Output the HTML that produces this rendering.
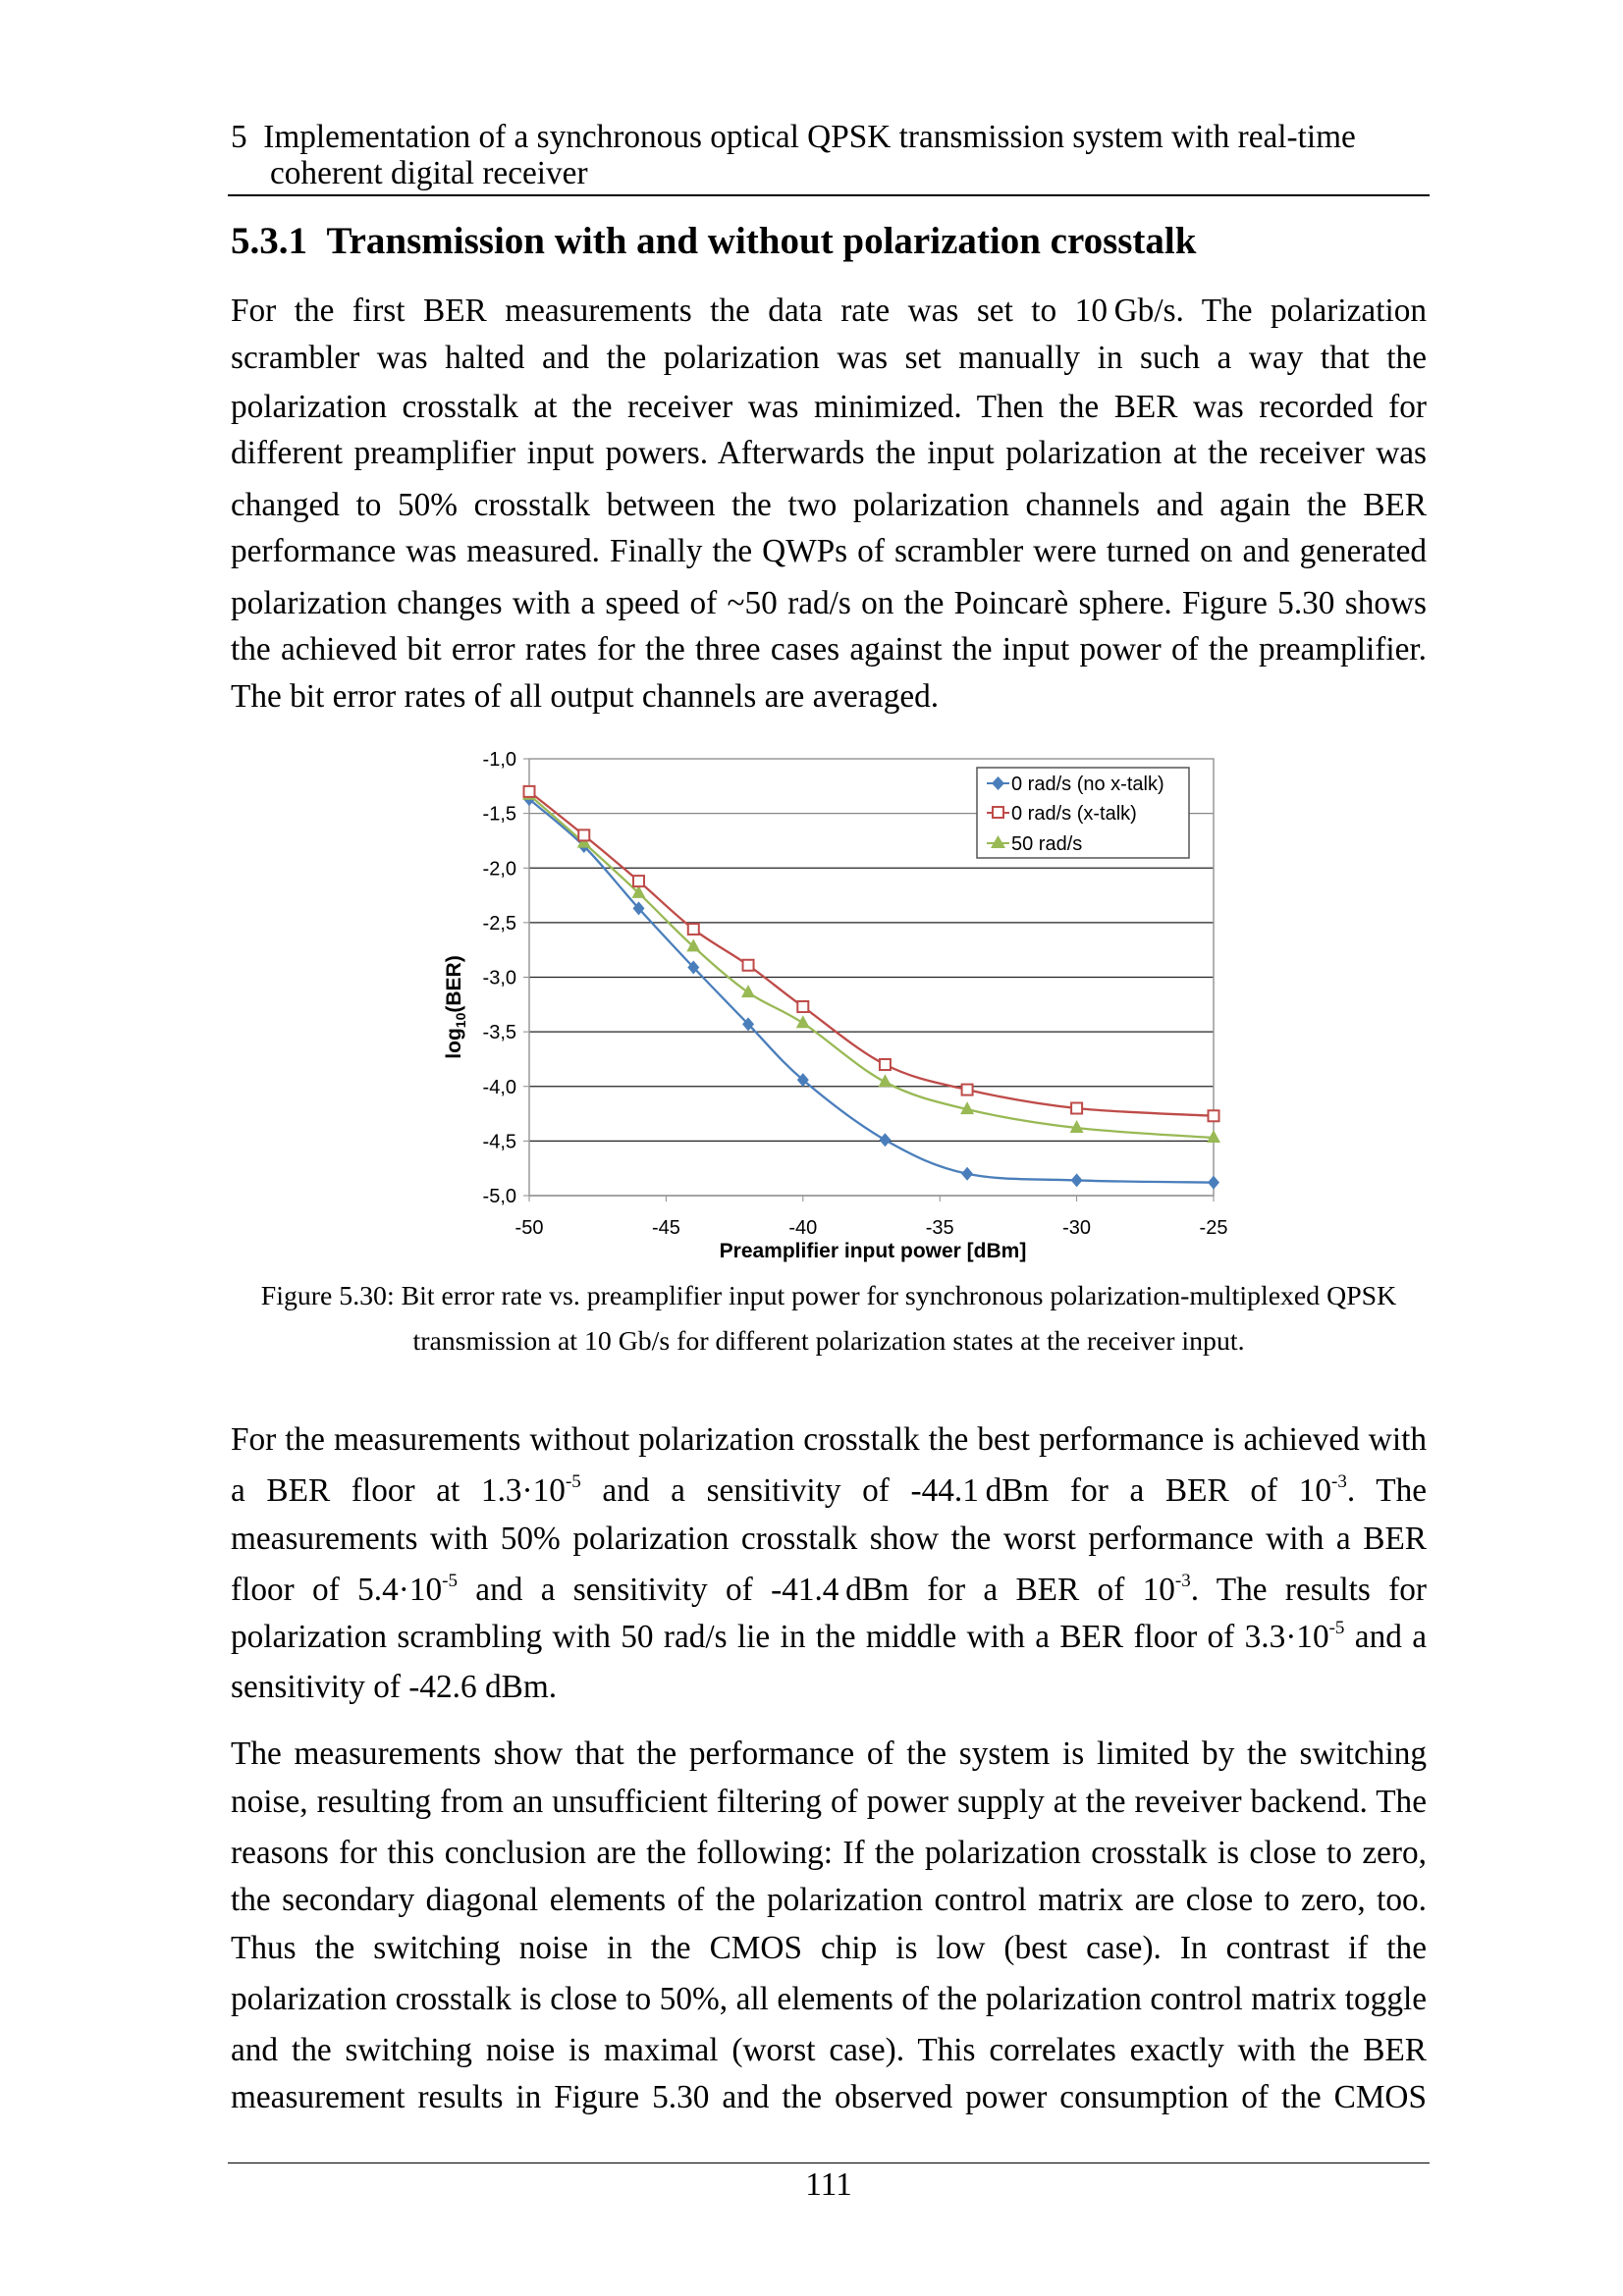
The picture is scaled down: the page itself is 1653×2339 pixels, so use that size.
<!DOCTYPE html>
<html><head><meta charset="utf-8"><style>
body{margin:0;background:#fff;}
#pg{position:relative;width:1653px;height:2339px;overflow:hidden;font-family:"Liberation Serif",serif;color:#000;}
.l{position:absolute;left:235px;width:1218px;font-size:33.3px;line-height:40px;white-space:nowrap;}
.j{text-align:justify;text-align-last:justify;}
sup{font-size:19px;line-height:0;vertical-align:14px;}
.c{position:absolute;left:235px;width:1218px;text-align:center;font-size:27.8px;line-height:32px;}
</style></head><body><div id="pg">
<div class="l" style="top:120px">5&nbsp;&nbsp;Implementation of a synchronous optical QPSK transmission system with real-time</div>
<div class="l" style="top:157px;left:275px">coherent digital receiver</div>
<div style="position:absolute;left:232px;top:198px;width:1224px;height:2px;background:#000"></div>
<div class="l" style="top:224px;font-size:39px;line-height:44px;font-weight:bold">5.3.1&nbsp;&nbsp;Transmission with and without polarization crosstalk</div>
<div class="l j" style="top:297px">For the first BER measurements the data rate was set to 10&#8239;Gb/s. The polarization</div>
<div class="l j" style="top:345px">scrambler was halted and the polarization was set manually in such a way that the</div>
<div class="l j" style="top:395px">polarization crosstalk at the receiver was minimized. Then the BER was recorded for</div>
<div class="l j" style="top:442px">different preamplifier input powers. Afterwards the input polarization at the receiver was</div>
<div class="l j" style="top:495px">changed to 50% crosstalk between the two polarization channels and again the BER</div>
<div class="l j" style="top:542px">performance was measured. Finally the QWPs of scrambler were turned on and generated</div>
<div class="l j" style="top:595px">polarization changes with a speed of ~50 rad/s on the Poincarè sphere. Figure 5.30 shows</div>
<div class="l j" style="top:642px">the achieved bit error rates for the three cases against the input power of the preamplifier.</div>
<div class="l" style="top:690px">The bit error rates of all output channels are averaged.</div>

<svg style="position:absolute;left:0;top:0" width="1653" height="1320" font-family="Liberation Sans, sans-serif">
<g id="grid"></g>
<rect x="539" y="773" width="697" height="445" fill="none" stroke="#999" stroke-width="1.5"/>
<g id="series"></g>
<g font-size="20" text-anchor="end" id="ylab"></g>
<g font-size="20" text-anchor="middle" id="xlab"></g>
<text x="889" y="1281" font-size="21" font-weight="bold" text-anchor="middle">Preamplifier input power [dBm]</text>
<text transform="translate(469,1026) rotate(-90)" font-size="21" font-weight="bold" text-anchor="middle">log<tspan font-size="14" dy="5">10</tspan><tspan dy="-5">(BER)</tspan></text>
<rect x="995" y="782" width="216" height="92" fill="#fff" stroke="#555" stroke-width="1.5"/>
<g font-size="20">
<line x1="1005" y1="798" x2="1028" y2="798" stroke="#4a7ebb" stroke-width="2"/><path d="M1016.5 791 L1023 798 L1016.5 805 L1010 798Z" fill="#4a7ebb"/>
<text x="1030" y="805">0 rad/s (no x-talk)</text>
<line x1="1005" y1="828" x2="1028" y2="828" stroke="#be4b48" stroke-width="2"/><rect x="1011" y="822" width="11" height="11" fill="#fff" stroke="#be4b48" stroke-width="2"/>
<text x="1030" y="835">0 rad/s (x-talk)</text>
<line x1="1005" y1="859" x2="1028" y2="859" stroke="#98b954" stroke-width="2"/><path d="M1016.5 851 L1024 864 L1009 864Z" fill="#98b954"/>
<text x="1030" y="866">50 rad/s</text>
</g>
</svg>

<div class="c" style="top:1305px">Figure 5.30: Bit error rate vs. preamplifier input power for synchronous polarization-multiplexed QPSK</div>
<div class="c" style="top:1351px">transmission at 10 Gb/s for different polarization states at the receiver input.</div>

<div class="l j" style="top:1447px">For the measurements without polarization crosstalk the best performance is achieved with</div>
<div class="l j" style="top:1499px">a BER floor at 1.3·10<sup>-5</sup> and a sensitivity of -44.1&#8239;dBm for a BER of 10<sup>-3</sup>. The</div>
<div class="l j" style="top:1548px">measurements with 50% polarization crosstalk show the worst performance with a BER</div>
<div class="l j" style="top:1600px">floor of 5.4·10<sup>-5</sup> and a sensitivity of -41.4&#8239;dBm for a BER of 10<sup>-3</sup>. The results for</div>
<div class="l j" style="top:1648px">polarization scrambling with 50 rad/s lie in the middle with a BER floor of 3.3·10<sup>-5</sup> and a</div>
<div class="l" style="top:1699px">sensitivity of -42.6 dBm.</div>
<div class="l j" style="top:1767px">The measurements show that the performance of the system is limited by the switching</div>
<div class="l j" style="top:1816px">noise, resulting from an unsufficient filtering of power supply at the reveiver backend. The</div>
<div class="l j" style="top:1868px">reasons for this conclusion are the following: If the polarization crosstalk is close to zero,</div>
<div class="l j" style="top:1916px">the secondary diagonal elements of the polarization control matrix are close to zero, too.</div>
<div class="l j" style="top:1965px">Thus the switching noise in the CMOS chip is low (best case). In contrast if the</div>
<div class="l j" style="top:2017px">polarization crosstalk is close to 50%, all elements of the polarization control matrix toggle</div>
<div class="l j" style="top:2069px">and the switching noise is maximal (worst case). This correlates exactly with the BER</div>
<div class="l j" style="top:2117px">measurement results in Figure 5.30 and the observed power consumption of the CMOS</div>
<div style="position:absolute;left:232px;top:2203px;width:1224px;height:1px;background:#000"></div>
<div class="l" style="top:2206px;text-align:center">111</div>
</div>
<script>
(function(){
var NS="http://www.w3.org/2000/svg";
function X(v){return 539+(v+50)*697/25;}
function Y(v){return 773+(-1-v)*445/4;}
function el(p,t,a){var e=document.createElementNS(NS,t);for(var k in a)e.setAttribute(k,a[k]);p.appendChild(e);return e;}
var g=document.getElementById('grid'),yl=document.getElementById('ylab'),xl=document.getElementById('xlab');
for(var i=0;i<=8;i++){var v=-1-i*0.5,y=Y(v);
 if(i>0)el(g,'line',{x1:539,x2:1236,y1:y,y2:y,stroke:i==1?'#888':'#222','stroke-width':1.3});
 el(g,'line',{x1:533,x2:539,y1:y,y2:y,stroke:'#888'});
 var t=el(yl,'text',{x:526,y:y+7});t.textContent=v.toFixed(1).replace('.',',');}
for(var x=-50;x<=-25;x+=5){el(g,'line',{x1:X(x),x2:X(x),y1:1218,y2:1224,stroke:'#888'});
 var t=el(xl,'text',{x:X(x),y:1257});t.textContent=x;}
var xs=[-50,-48,-46,-44,-42,-40,-37,-34,-30,-25];
var S=[
 {c:'#4a7ebb',m:'d',d:[-1.37,-1.80,-2.37,-2.91,-3.43,-3.94,-4.49,-4.80,-4.86,-4.88]},
 {c:'#98b954',m:'t',d:[-1.33,-1.77,-2.23,-2.72,-3.14,-3.42,-3.96,-4.21,-4.38,-4.47]},
 {c:'#be4b48',m:'s',d:[-1.30,-1.70,-2.12,-2.56,-2.89,-3.27,-3.80,-4.03,-4.20,-4.27]}];
var sg=document.getElementById('series');
S.forEach(function(s){
 var P=xs.map(function(x,i){return [X(x),Y(s.d[i])];});
 var d='M'+P[0][0]+' '+P[0][1];
 for(var i=0;i<P.length-1;i++){var p0=P[i-1]||P[i],p1=P[i],p2=P[i+1],p3=P[i+2]||P[i+1],k=1/6;
  d+=' C'+(p1[0]+(p2[0]-p0[0])*k)+' '+(p1[1]+(p2[1]-p0[1])*k)+' '+(p2[0]-(p3[0]-p1[0])*k)+' '+(p2[1]-(p3[1]-p1[1])*k)+' '+p2[0]+' '+p2[1];}
 el(sg,'path',{d:d,fill:'none',stroke:s.c,'stroke-width':2.3});
 P.forEach(function(p){var x=p[0],y=p[1];
  if(s.m=='d')el(sg,'path',{d:'M'+x+' '+(y-7)+'L'+(x+6)+' '+y+'L'+x+' '+(y+7)+'L'+(x-6)+' '+y+'Z',fill:s.c});
  else if(s.m=='t')el(sg,'path',{d:'M'+x+' '+(y-8)+'L'+(x+7)+' '+(y+5)+'L'+(x-7)+' '+(y+5)+'Z',fill:s.c});
  else el(sg,'rect',{x:x-5.5,y:y-5.5,width:11,height:11,fill:'#fff',stroke:s.c,'stroke-width':2});});
});
})();
</script>
</body></html>
